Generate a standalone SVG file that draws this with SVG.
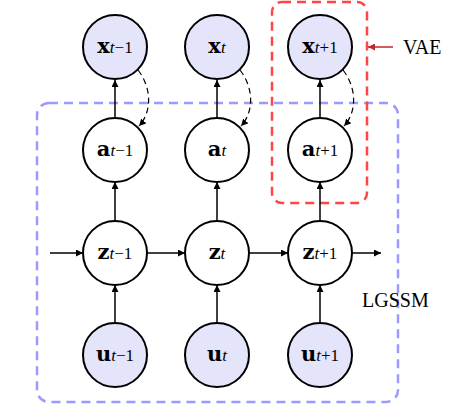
<svg xmlns="http://www.w3.org/2000/svg" width="450" height="404" viewBox="0 0 450 404">
<defs>
<marker id="ah" viewBox="0 0 10 10" refX="10" refY="5" markerWidth="7" markerHeight="7" markerUnits="userSpaceOnUse" orient="auto"><path d="M0,0 L10,5 L0,10 z" fill="#000"/></marker>
<marker id="ahr" viewBox="0 0 10 10" refX="10" refY="5" markerWidth="7" markerHeight="7" markerUnits="userSpaceOnUse" orient="auto"><path d="M0,0 L10,5 L0,10 z" fill="#c0262d"/></marker>
<style>
.n{stroke:#000;stroke-width:2;fill:#fff}
.o{stroke:#000;stroke-width:2;fill:#e4e4fa}
.e{stroke:#000;stroke-width:1.5;fill:none;marker-end:url(#ah)}
.d{stroke:#000;stroke-width:1.2;fill:none;stroke-dasharray:6,4;marker-end:url(#ah)}
</style>
</defs>
<rect x="37" y="103" width="361" height="299" rx="12" fill="none" stroke="#9a9aff" stroke-width="2.5" stroke-dasharray="9,6"/>
<rect x="272" y="2" width="95" height="201" rx="10" fill="none" stroke="#ff4545" stroke-width="2.5" stroke-dasharray="9,6"/>
<g id="connectors">
<line class="e" x1="50" y1="253" x2="83" y2="253"/>
<line class="e" x1="147" y1="253" x2="185" y2="253"/>
<line class="e" x1="249" y1="253" x2="288" y2="253"/>
<line class="e" x1="352" y1="253" x2="381" y2="253"/>
<line class="e" x1="115" y1="323" x2="115" y2="285"/>
<line class="e" x1="217" y1="323" x2="217" y2="285"/>
<line class="e" x1="320" y1="323" x2="320" y2="285"/>
<line class="e" x1="115" y1="221" x2="115" y2="182"/>
<line class="e" x1="217" y1="221" x2="217" y2="182"/>
<line class="e" x1="320" y1="221" x2="320" y2="182"/>
<line class="e" x1="115" y1="118" x2="115" y2="80"/>
<line class="e" x1="217" y1="118" x2="217" y2="80"/>
<line class="e" x1="320" y1="118" x2="320" y2="80"/>
<path class="d" d="M138,70 C152,88 152,112 139,126"/>
<path class="d" d="M240,70 C254,88 254,112 241,126"/>
<path class="d" d="M343,70 C357,88 357,112 344,126"/>
<line x1="393" y1="47" x2="368" y2="47" stroke="#c0262d" stroke-width="1.5" marker-end="url(#ahr)"/>
</g>
<g font-family="DejaVu Serif, serif" font-size="21" font-weight="bold" text-anchor="middle">
<g id="x1"><circle class="o" cx="115" cy="47" r="32"/><text x="115" y="53">x<tspan font-family="Liberation Serif, serif" font-size="17" font-weight="normal"><tspan font-style="italic">t</tspan>−1</tspan></text></g>
<g id="x2"><circle class="o" cx="217" cy="47" r="32"/><text x="217" y="53">x<tspan font-family="Liberation Serif, serif" font-size="17" font-weight="normal" font-style="italic">t</tspan></text></g>
<g id="x3"><circle class="o" cx="320" cy="47" r="32"/><text x="320" y="53">x<tspan font-family="Liberation Serif, serif" font-size="17" font-weight="normal"><tspan font-style="italic">t</tspan>+1</tspan></text></g>
<g id="a1"><circle class="n" cx="115" cy="150" r="32"/><text x="115" y="156">a<tspan font-family="Liberation Serif, serif" font-size="17" font-weight="normal"><tspan font-style="italic">t</tspan>−1</tspan></text></g>
<g id="a2"><circle class="n" cx="217" cy="150" r="32"/><text x="217" y="156">a<tspan font-family="Liberation Serif, serif" font-size="17" font-weight="normal" font-style="italic">t</tspan></text></g>
<g id="a3"><circle class="n" cx="320" cy="150" r="32"/><text x="320" y="156">a<tspan font-family="Liberation Serif, serif" font-size="17" font-weight="normal"><tspan font-style="italic">t</tspan>+1</tspan></text></g>
<g id="z1"><circle class="n" cx="115" cy="253" r="32"/><text x="115" y="259">z<tspan font-family="Liberation Serif, serif" font-size="17" font-weight="normal"><tspan font-style="italic">t</tspan>−1</tspan></text></g>
<g id="z2"><circle class="n" cx="217" cy="253" r="32"/><text x="217" y="259">z<tspan font-family="Liberation Serif, serif" font-size="17" font-weight="normal" font-style="italic">t</tspan></text></g>
<g id="z3"><circle class="n" cx="320" cy="253" r="32"/><text x="320" y="259">z<tspan font-family="Liberation Serif, serif" font-size="17" font-weight="normal"><tspan font-style="italic">t</tspan>+1</tspan></text></g>
<g id="u1"><circle class="o" cx="115" cy="355" r="32"/><text x="115" y="361">u<tspan font-family="Liberation Serif, serif" font-size="17" font-weight="normal"><tspan font-style="italic">t</tspan>−1</tspan></text></g>
<g id="u2"><circle class="o" cx="217" cy="355" r="32"/><text x="217" y="361">u<tspan font-family="Liberation Serif, serif" font-size="17" font-weight="normal" font-style="italic">t</tspan></text></g>
<g id="u3"><circle class="o" cx="320" cy="355" r="32"/><text x="320" y="361">u<tspan font-family="Liberation Serif, serif" font-size="17" font-weight="normal"><tspan font-style="italic">t</tspan>+1</tspan></text></g>
</g>
<text x="403" y="54" font-family="Liberation Serif, serif" font-size="20">VAE</text>
<text x="362" y="307" font-family="Liberation Serif, serif" font-size="20">LGSSM</text>
</svg>
